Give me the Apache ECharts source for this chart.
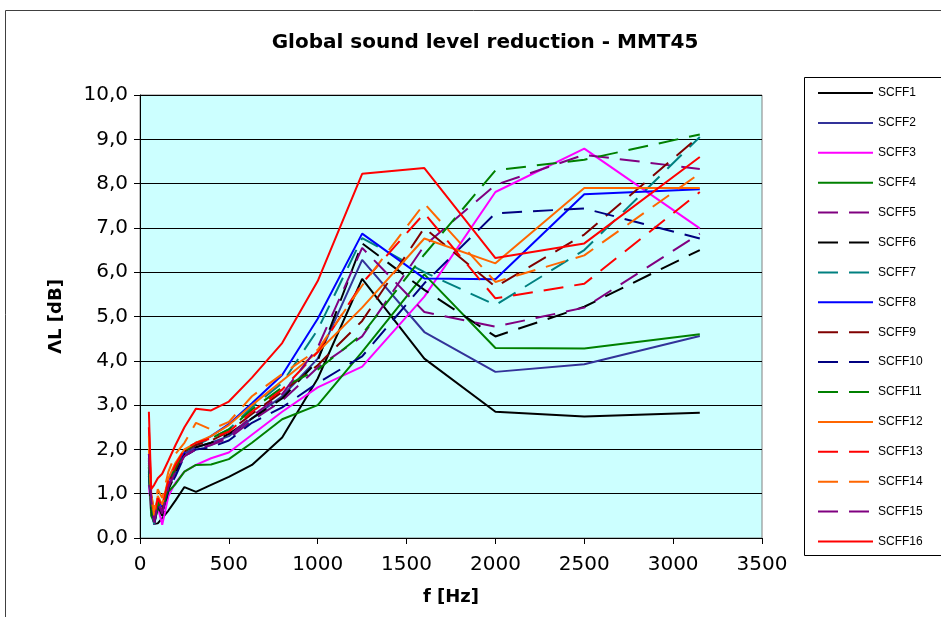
<!DOCTYPE html>
<html>
<head>
<meta charset="utf-8">
<script src="https://cdn.jsdelivr.net/npm/echarts@6/dist/echarts.min.js"></script>
<style>
  html, body { margin: 0; padding: 0; background: #fff; }
  #chart { width: 941px; height: 617px; }
</style>
</head>
<body>
<div id="chart"></div>
<script>
// third-octave band centre frequencies [Hz]
var freqs = [50, 63, 80, 100, 125, 160, 200, 250, 315, 400, 500, 630, 800, 1000, 1250, 1600, 2000, 2500, 3150];

var scff1 = [1.75, 0.82, 0.32, 0.33, 0.45, 0.62, 0.85, 1.15, 1.04, 1.2, 1.38, 1.65, 2.27, 3.6, 5.85, 4.05, 2.85, 2.74, 2.83];
var scff2 = [1.5, 0.75, 0.3, 0.72, 0.55, 1.15, 1.5, 1.9, 2.05, 2.15, 2.3, 2.7, 3.2, 4.05, 6.28, 4.65, 3.75, 3.92, 4.56];
var scff3 = [1.2, 0.6, 0.45, 0.7, 0.3, 0.95, 1.25, 1.5, 1.65, 1.8, 1.93, 2.33, 2.85, 3.4, 3.87, 5.45, 7.81, 8.79, 6.99];
var scff4 = [1.6, 0.5, 0.35, 0.65, 0.6, 1.05, 1.22, 1.5, 1.65, 1.66, 1.78, 2.15, 2.68, 3.0, 4.2, 5.95, 4.29, 4.28, 4.6];
var scff5 = [1.9, 0.9, 0.3, 0.8, 0.6, 1.2, 1.5, 1.85, 2.0, 2.1, 2.25, 2.65, 3.1, 3.85, 4.55, 6.6, 7.97, 8.65, 8.33];
var scff6 = [1.4, 0.7, 0.35, 0.75, 0.5, 1.1, 1.45, 1.9, 2.05, 2.15, 2.35, 2.7, 3.15, 4.0, 6.65, 5.6, 4.55, 5.22, 6.5];
var scff7 = [1.45, 0.8, 0.28, 0.85, 0.65, 1.25, 1.6, 1.95, 2.1, 2.25, 2.45, 2.95, 3.5, 4.7, 6.77, 6.0, 5.26, 6.5, 9.05];
var scff8 = [1.7, 0.9, 0.45, 0.9, 0.7, 1.3, 1.65, 1.95, 2.1, 2.3, 2.57, 3.04, 3.68, 4.95, 6.87, 5.86, 5.84, 7.76, 7.87];
var scff9 = [1.8, 0.85, 0.4, 0.85, 0.65, 1.25, 1.55, 1.95, 2.1, 2.2, 2.4, 2.8, 3.3, 3.9, 4.9, 7.0, 5.67, 6.85, 9.08];
var scff10 = [1.6, 0.75, 0.3, 0.75, 0.55, 1.1, 1.4, 1.85, 2.0, 2.05, 2.2, 2.6, 2.95, 3.5, 4.1, 5.75, 7.33, 7.44, 6.76];
var scff11 = [1.65, 0.8, 0.35, 0.8, 0.6, 1.2, 1.6, 1.95, 2.15, 2.25, 2.45, 2.9, 3.4, 3.8, 4.6, 6.4, 8.3, 8.54, 9.11];
var scff12 = [2.0, 0.95, 0.5, 0.95, 0.75, 1.35, 1.7, 2.0, 2.15, 2.3, 2.55, 3.0, 3.55, 4.2, 5.2, 6.76, 6.2, 7.9, 7.9];
var scff13 = [2.5, 1.0, 0.5, 0.9, 0.7, 1.3, 1.65, 2.0, 2.15, 2.25, 2.4, 2.85, 3.35, 4.2, 5.75, 7.33, 5.41, 5.74, 7.81];
var scff14 = [2.3, 1.0, 0.6, 1.1, 0.9, 1.5, 1.9, 2.15, 2.6, 2.45, 2.62, 3.2, 3.7, 4.25, 5.7, 7.55, 5.78, 6.38, 8.23];
var scff15 = [1.9, 0.85, 0.35, 0.8, 0.55, 1.15, 1.5, 1.85, 2.0, 2.1, 2.3, 2.75, 3.25, 4.3, 6.55, 5.1, 4.77, 5.2, 6.87];
var scff16 = [2.85, 1.1, 1.2, 1.35, 1.45, 1.75, 2.1, 2.5, 2.92, 2.88, 3.08, 3.62, 4.4, 5.8, 8.22, 8.35, 6.32, 6.65, 8.6];

var names = ["SCFF1", "SCFF2", "SCFF3", "SCFF4", "SCFF5", "SCFF6", "SCFF7", "SCFF8",
  "SCFF9", "SCFF10", "SCFF11", "SCFF12", "SCFF13", "SCFF14", "SCFF15", "SCFF16"];
var values = [scff1, scff2, scff3, scff4, scff5, scff6, scff7, scff8,
  scff9, scff10, scff11, scff12, scff13, scff14, scff15, scff16];
var colors = ["#000000", "#333399", "#ff00ff", "#008000", "#800080", "#000000", "#008080", "#0000ff",
  "#800000", "#000080", "#008000", "#ff6600", "#ff0000", "#ff6600", "#800080", "#ff0000"];
var dashed = [false, false, false, false, true, true, true, false,
  true, true, true, false, true, true, true, false];

var series = names.map(function (name, i) {
  return {
    name: name,
    type: "line",
    symbol: "none",
    animation: false,
    data: freqs.map(function (f, j) { return [f, values[i][j]]; }),
    lineStyle: {
      color: colors[i],
      width: 2,
      type: dashed[i] ? [20, 11] : "solid"
    },
    itemStyle: { color: colors[i] }
  };
});

var options = {
  backgroundColor: "#ffffff",
  title: {
    text: "Global sound level reduction - MMT45",
    left: 480,
    top: 28,
    textAlign: "center",
    textStyle: { fontFamily: "DejaVu Sans", fontSize: 20, fontWeight: "bold", color: "#000" }
  },
  legend: {
    orient: "vertical",
    left: 812,
    top: 82,
    itemWidth: 55,
    itemHeight: 14,
    itemGap: 17.9,
    itemStyle: { opacity: 0 },
    textStyle: { fontFamily: "Liberation Sans", fontSize: 12, color: "#000" },
    data: names
  },
  grid: {
    left: 140,
    right: 179,
    top: 95,
    bottom: 79,
    show: true,
    backgroundColor: "#ccffff",
    borderColor: "#808080",
    borderWidth: 1
  },
  xAxis: {
    type: "value",
    min: 0,
    max: 3500,
    interval: 500,
    name: "f [Hz]",
    nameLocation: "middle",
    nameGap: 50,
    nameTextStyle: { fontFamily: "DejaVu Sans", fontSize: 18, fontWeight: "bold", color: "#000" },
    axisLine: { lineStyle: { color: "#000" } },
    axisTick: { show: true, length: 6, lineStyle: { color: "#000" } },
    axisLabel: {
      fontFamily: "DejaVu Sans",
      fontSize: 20,
      color: "#000",
      margin: 17,
      formatter: function (v) { return String(v); }
    },
    splitLine: { show: false }
  },
  yAxis: {
    type: "value",
    min: 0,
    max: 10,
    interval: 1,
    name: "ΛL [dB]",
    nameLocation: "middle",
    nameGap: 75,
    nameTextStyle: { fontFamily: "DejaVu Sans", fontSize: 18, fontWeight: "bold", color: "#000" },
    axisLine: { show: true, lineStyle: { color: "#000" } },
    axisTick: { show: true, length: 6, lineStyle: { color: "#000" } },
    axisLabel: {
      fontFamily: "DejaVu Sans",
      fontSize: 20,
      color: "#000",
      margin: 12,
      formatter: function (v) { return v.toFixed(1).replace(".", ","); }
    },
    splitLine: { show: true, lineStyle: { color: "#000", width: 1 } }
  },
  graphic: [
    {
      type: "rect",
      silent: true,
      shape: { x: 5.5, y: 10.5, width: 950, height: 620 },
      style: { fill: "none", stroke: "#404040", lineWidth: 1 }
    },
    {
      type: "rect",
      silent: true,
      shape: { x: 804.5, y: 77.5, width: 150, height: 478 },
      style: { fill: "#fff", stroke: "#000", lineWidth: 1 },
      z: -1
    }
  ],
  series: series
};

var myChart = echarts.init(document.getElementById("chart"));
myChart.setOption(options);
</script>
</body>
</html>
